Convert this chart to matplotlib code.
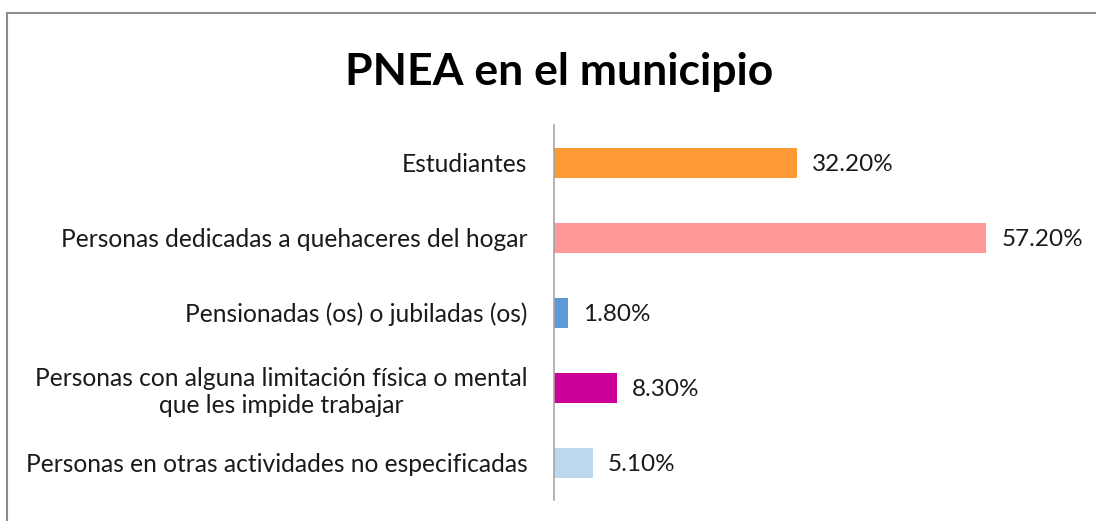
import matplotlib.pyplot as plt
from matplotlib.patches import Rectangle

# datos del grafico
categorias = [
    "Estudiantes",
    "Personas dedicadas a quehaceres del hogar",
    "Pensionadas (os) o jubiladas (os)",
    "Personas con alguna limitación física o mental\nque les impide trabajar",
    "Personas en otras actividades no especificadas",
]
valores = [32.2, 57.2, 1.8, 8.3, 5.1]
etiquetas = ["32.20%", "57.20%", "1.80%", "8.30%", "5.10%"]
colores = ["#FF9933", "#FF9999", "#5B9BD5", "#CC0099", "#BDD7EE"]

plt.rcParams['font.family'] = ['Lato', 'DejaVu Sans']

W, H = 1096, 521
fig = plt.figure(figsize=(W / 100, H / 100), dpi=100)

# marco del grafico (gris)
fig.patches.append(Rectangle((7 / W, -0.05), 1.1, (H - 13) / H + 0.05,
                             transform=fig.transFigure, fill=False,
                             edgecolor='#8c8c8c', linewidth=1.5))

# ejes en pixeles: x 554..1045, y 125..500
ax = fig.add_axes([554 / W, (H - 500) / H, (1045 - 554) / W, 375 / H])
y = range(len(categorias))
ax.barh(y, valores, height=0.4, color=colores)
ax.set_xlim(0, 65)
ax.set_ylim(4.5, -0.5)

for i, (v, t) in enumerate(zip(valores, etiquetas)):
    ax.text(v + 2.0, i, t, va='center_baseline', ha='left', fontsize=17.5,
            color='#1a1a1a')

ax.set_yticks(list(y))
ax.set_yticklabels(categorias, fontsize=17.7, color='#1a1a1a',
                   multialignment='center', linespacing=1.25)
ax.set_xticks([])
for s in ['top', 'right', 'bottom']:
    ax.spines[s].set_visible(False)
ax.spines['left'].set_color('#a6a6a6')
ax.spines['left'].set_linewidth(1.2)
ax.tick_params(axis='y', length=0, pad=19)

fig.text(559 / W, 1 - 68 / H, "PNEA en el municipio", ha='center',
         va='center_baseline', fontsize=32, fontweight='bold', color='black')

fig.savefig('out.png', dpi=100)
